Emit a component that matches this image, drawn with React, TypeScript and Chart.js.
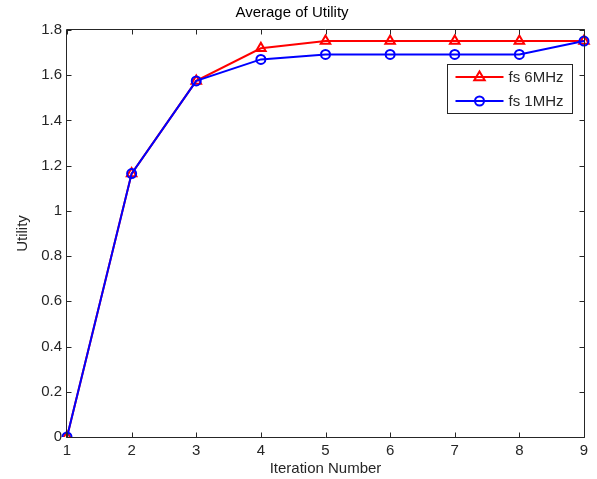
import React, { useEffect, useRef } from "react";
import { Chart, registerables } from "chart.js";

Chart.register(...registerables);

const iterations = ["1", "2", "3", "4", "5", "6", "7", "8", "9"];
const fs6MHz = [0, 1.165, 1.575, 1.719, 1.751, 1.751, 1.751, 1.751, 1.751];
const fs1MHz = [0, 1.165, 1.575, 1.67, 1.692, 1.692, 1.692, 1.692, 1.751];
const seriesLabels = ["fs 6MHz", "fs 1MHz"];
const chartTitle = "Average of Utility";
const xTitle = "Iteration Number";
const yTitle = "Utility";

const FONT = "'Liberation Sans', Arial, sans-serif";
const AXIS = "#262626";

const boxTicks = {
  id: "boxTicks",
  afterDraw(chart: any) {
    const { ctx, chartArea } = chart;
    const { left, right, top, bottom } = chartArea;
    const xs = chart.scales.x;
    const ys = chart.scales.y;
    ctx.save();
    ctx.strokeStyle = AXIS;
    ctx.lineWidth = 1;
    ctx.beginPath();
    const L = Math.round(left) - 0.5;
    const R = Math.round(right) + 0.5;
    const T = Math.round(top) - 0.5;
    const B = Math.round(bottom) + 0.5;
    ctx.rect(L, T, R - L, B - T);
    const len = 5;
    xs.ticks.forEach((_: any, i: number) => {
      const px = Math.round(xs.getPixelForTick(i)) + 0.5;
      ctx.moveTo(px, B);
      ctx.lineTo(px, B - len);
      ctx.moveTo(px, T);
      ctx.lineTo(px, T + len);
    });
    ys.ticks.forEach((_: any, i: number) => {
      const py = Math.round(ys.getPixelForTick(i)) + 0.5;
      ctx.moveTo(L, py);
      ctx.lineTo(L + len, py);
      ctx.moveTo(R, py);
      ctx.lineTo(R - len, py);
    });
    ctx.stroke();
    ctx.restore();
  },
};

const boxLegend = {
  id: "boxLegend",
  afterDraw(chart: any) {
    const { ctx, chartArea } = chart;
    const datasets = chart.data.datasets;
    const w = 125;
    const h = 49;
    const x0 = Math.round(chartArea.right - 12 - w) + 0.5;
    const y0 = Math.round(chartArea.top + 34) + 0.5;
    ctx.save();
    ctx.fillStyle = "#fff";
    ctx.fillRect(x0, y0, w, h);
    ctx.strokeStyle = AXIS;
    ctx.lineWidth = 1;
    ctx.strokeRect(x0, y0, w, h);
    datasets.forEach((ds: any, i: number) => {
      const cy = y0 + 12.5 + i * 24;
      const lx0 = x0 + 8;
      const lx1 = x0 + 56;
      const mx = (lx0 + lx1) / 2;
      ctx.strokeStyle = ds.borderColor;
      ctx.lineWidth = 2;
      ctx.beginPath();
      ctx.moveTo(lx0, cy);
      ctx.lineTo(lx1, cy);
      ctx.stroke();
      ctx.beginPath();
      if (ds.pointStyle === "triangle") {
        const r = ds.pointRadius;
        ctx.moveTo(mx, cy - r);
        ctx.lineTo(mx + r * 0.95, cy + r * 0.6);
        ctx.lineTo(mx - r * 0.95, cy + r * 0.6);
        ctx.closePath();
      } else {
        ctx.arc(mx, cy, ds.pointRadius, 0, Math.PI * 2);
      }
      ctx.stroke();
      ctx.fillStyle = AXIS;
      ctx.font = `15px ${FONT}`;
      ctx.textBaseline = "middle";
      ctx.textAlign = "left";
      ctx.fillText(ds.label, x0 + 61, cy + 1);
    });
    ctx.restore();
  },
};

export default function App() {
  const ref = useRef<HTMLCanvasElement | null>(null);
  useEffect(() => {
    if (!ref.current) return;
    const chart = new Chart(ref.current, {
      type: "line",
      data: {
        labels: iterations,
        datasets: [
          {
            label: seriesLabels[0],
            data: fs6MHz,
            borderColor: "#ff0000",
            backgroundColor: "transparent",
            borderWidth: 2,
            pointStyle: "triangle",
            pointRadius: 5.5,
            pointBorderWidth: 2,
            pointBackgroundColor: "transparent",
            pointBorderColor: "#ff0000",
            tension: 0,
            order: 1,
          },
          {
            label: seriesLabels[1],
            data: fs1MHz,
            borderColor: "#0000ff",
            backgroundColor: "transparent",
            borderWidth: 2,
            pointStyle: "circle",
            pointRadius: 4.5,
            pointBorderWidth: 2,
            pointBackgroundColor: "transparent",
            pointBorderColor: "#0000ff",
            tension: 0,
            order: 0,
          },
        ],
      },
      options: {
        responsive: false,
        animation: false,
        devicePixelRatio: 1,
        layout: { padding: { left: 0, right: 13, top: 0, bottom: 0 } },
        plugins: {
          legend: { display: false },
          tooltip: { enabled: false },
          title: {
            display: true,
            text: chartTitle,
            color: "#000",
            font: { family: FONT, size: 15, weight: "normal" },
            padding: { top: 4, bottom: 8 },
          },
        },
        scales: {
          x: {
            type: "category",
            offset: false,
            grid: { display: false, drawTicks: false },
            border: { display: false },
            ticks: {
              color: AXIS,
              font: { family: FONT, size: 15 },
              padding: 5,
              maxRotation: 0,
            },
            title: {
              display: true,
              text: xTitle,
              color: AXIS,
              font: { family: FONT, size: 15 },
              padding: { top: 0, bottom: 1 },
            },
            afterFit: (s: any) => {
              s.height = 42;
            },
          },
          y: {
            type: "linear",
            min: 0,
            max: 1.8,
            grid: { display: false, drawTicks: false },
            border: { display: false },
            ticks: {
              stepSize: 0.2,
              color: AXIS,
              font: { family: FONT, size: 15 },
              padding: 5,
              callback: (v: any) => String(Number(Number(v).toFixed(1))),
            },
            title: {
              display: true,
              text: yTitle,
              color: AXIS,
              font: { family: FONT, size: 15 },
              padding: { top: 14, bottom: 0 },
            },
            afterFit: (s: any) => {
              s.width = 67;
            },
          },
        },
      },
      plugins: [boxTicks, boxLegend],
    } as any);
    return () => chart.destroy();
  }, []);
  return (
    <div style={{ position: "fixed", left: 0, top: 0, width: 597, height: 479, background: "#fff" }}>
      <canvas ref={ref} width={597} height={479} style={{ display: "block" }} />
    </div>
  );
}
